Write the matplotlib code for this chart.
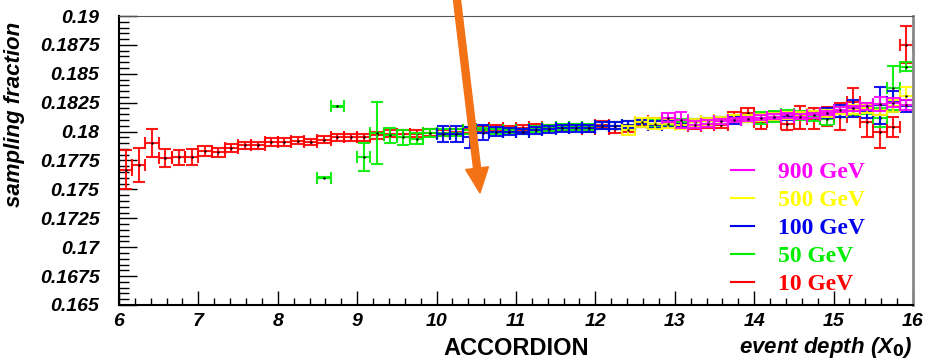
import numpy as np
import matplotlib
matplotlib.use("Agg")
import matplotlib.pyplot as plt
from matplotlib.lines import Line2D
from matplotlib.patches import FancyArrow
from matplotlib.transforms import IdentityTransform

# histogram binning: 60 bins of 1/6 X0 between 6 and 16
bin_edges = np.linspace(6, 16, 61)

# 10 GeV (all bins)
red_first = 0
red_y = [0.1767, 0.1771, 0.1790, 0.1777, 0.1778, 0.1778, 0.1783, 0.1782, 0.1786, 0.1788,
         0.1788, 0.1791, 0.1791, 0.1792, 0.1791, 0.1793, 0.1795, 0.1795, 0.1795, 0.1797,
         0.1798, 0.1798, 0.1798, 0.1799, 0.1799, 0.1800, 0.1801, 0.1802, 0.1803, 0.1802,
         0.1803, 0.1804, 0.1803, 0.1803, 0.1804, 0.1802, 0.1806, 0.1802, 0.1803, 0.1808,
         0.1809, 0.1809, 0.1807, 0.1805, 0.1806, 0.1806, 0.1813, 0.1816, 0.1808, 0.1813,
         0.1807, 0.1812, 0.1811, 0.1813, 0.1813, 0.1826, 0.1808, 0.1800, 0.1804, 0.1875]
red_e = [0.0017, 0.0015, 0.0012, 0.0008, 0.00065, 0.0007, 0.00045, 0.00036, 0.00035, 0.0003,
         0.0003, 0.00035, 0.00035, 0.0003, 0.0003, 0.0003, 0.0003, 0.0003, 0.0003, 0.0003,
         0.0003, 0.0003, 0.0003, 0.0003, 0.00025, 0.00025, 0.00025, 0.00025, 0.00025, 0.00025,
         0.00025, 0.00025, 0.00025, 0.00025, 0.00025, 0.00025, 0.0003, 0.0003, 0.0003, 0.0003,
         0.0003, 0.0003, 0.0003, 0.0003, 0.0003, 0.0003, 0.0004, 0.0004, 0.0006, 0.0004,
         0.0006, 0.0010, 0.0009, 0.0008, 0.0012, 0.0012, 0.0013, 0.0014, 0.0009, 0.0016]

# 50 GeV
green_first = 15
green_y = [0.1760, 0.1822, np.nan, 0.1778, 0.1799, 0.1797, 0.1795, 0.1794, 0.1799, 0.1799,
           0.1799, 0.1801, 0.1801, 0.1800, 0.1801, 0.1800, 0.1802, 0.1803, 0.1804, 0.1804,
           0.1804, 0.1805, 0.1805, 0.1806, 0.1807, 0.1807, 0.1808, 0.1808, 0.1808, 0.1809,
           0.1810, 0.1811, 0.1811, 0.1812, 0.1813, 0.1815, 0.1814, 0.1813, 0.1811, 0.1817,
           0.1818, 0.1820, 0.1812, 0.1838, 0.1856]
green_e = [0.00005, 0.00005, np.nan, 0.0012, 0.0027, 0.00065, 0.00065, 0.0005, 0.00036, 0.0003,
           0.0003, 0.0003, 0.00025, 0.00025, 0.00025, 0.00025, 0.00025, 0.00025, 0.00025, 0.00025,
           0.00025, 0.0003, 0.0003, 0.0003, 0.0003, 0.0003, 0.0003, 0.0003, 0.0003, 0.0003,
           0.0003, 0.0003, 0.0003, 0.0005, 0.0005, 0.0004, 0.0004, 0.0004, 0.0005, 0.0004,
           0.0004, 0.0005, 0.0008, 0.0019, 0.0004]

# 100 GeV
blue_first = 24
blue_y = [0.1798, 0.1798, 0.1795, 0.1799, 0.1800, 0.1800, 0.1800, 0.1801, 0.1802, 0.1803,
          0.1803, 0.1803, 0.1805, 0.1805, 0.1806, 0.1807, 0.1806, 0.1807, 0.1807, 0.1808,
          0.1809, 0.1810, 0.1810, 0.1811, 0.1812, 0.1813, 0.1813, 0.1814, 0.1815, 0.1816,
          0.1818, 0.1820, 0.1818, 0.1823, 0.1826, 0.1822]
blue_e = [0.0007, 0.0007, 0.0009, 0.00065, 0.0004, 0.0003, 0.00025, 0.0003, 0.0003, 0.0003,
          0.0003, 0.0003, 0.0003, 0.0003, 0.0003, 0.0003, 0.0003, 0.0003, 0.0003, 0.0003,
          0.0003, 0.0003, 0.0003, 0.0003, 0.0003, 0.0003, 0.0003, 0.0003, 0.0003, 0.0004,
          0.0005, 0.0007, 0.0006, 0.0016, 0.0009, 0.0005]

# 500 GeV
yellow_first = 38
yellow_y = [0.1801, 0.1808, 0.1807, 0.1807, 0.1806, 0.1808, 0.1809, 0.1810, 0.1811, 0.1811,
            0.1812, 0.1813, 0.1814, 0.1814, 0.1815, 0.1816, 0.1818, 0.1819, 0.1820, 0.1819,
            0.1822, 0.1831]
yellow_e = [0.0004, 0.0004, 0.0005, 0.0004, 0.0004, 0.0003, 0.0003, 0.0003, 0.0003, 0.0003,
            0.0003, 0.0003, 0.0003, 0.0003, 0.0003, 0.0003, 0.0003, 0.0004, 0.0004, 0.0005,
            0.0005, 0.0008]

# 900 GeV
magenta_first = 41
magenta_y = [0.1812, 0.1810, 0.1806, 0.1807, 0.1809, 0.1810, 0.1811, 0.1812, 0.1813, 0.1814,
             0.1813, 0.1814, 0.1816, 0.1819, 0.1820, 0.1822, 0.1824, 0.1825, 0.1823]
magenta_e = [0.0004, 0.0007, 0.0003, 0.0003, 0.0002, 0.0002, 0.0002, 0.0002, 0.0002, 0.0002,
             0.0002, 0.0002, 0.0002, 0.0002, 0.0002, 0.0003, 0.0006, 0.0004, 0.0004]

labels = ["10 GeV", "50 GeV", "100 GeV", "500 GeV", "900 GeV"]
colors = ["#ff0000", "#00ee00", "#0000ee", "#ffff00", "#ff00ff"]
series = [(red_first, red_y, red_e), (green_first, green_y, green_e),
          (blue_first, blue_y, blue_e), (yellow_first, yellow_y, yellow_e),
          (magenta_first, magenta_y, magenta_e)]

tick_font = dict(family="Liberation Sans", weight="bold", style="italic")

fig = plt.figure(figsize=(9.25, 3.62), dpi=100)
ax = fig.add_axes([0.1286, 0.1575, 0.8584, 0.7983])

centers = 0.5 * (bin_edges[:-1] + bin_edges[1:])
half_w = 0.5 * (bin_edges[1] - bin_edges[0])

for (first, y, e), c in zip(series, colors):
    x = centers[first:first + len(y)]
    ax.errorbar(x, y, yerr=e, xerr=half_w, fmt="none", ecolor=c, elinewidth=1.5,
                capsize=4.3, capthick=1.5, alpha=0.9)
    ax.plot(x, y, ls="none", marker=".", ms=1.5, color="black")

ax.set_xlim(6, 16)
ax.set_ylim(0.165, 0.19)
ax.set_xticks(np.arange(6, 17, 1))
ax.set_xticks(np.arange(6, 16.01, 0.2), minor=True)
ax.set_yticks(np.arange(0.165, 0.19001, 0.0025))
ax.set_yticks(np.arange(0.165, 0.19001, 0.0005), minor=True)
ax.set_xticklabels(["%g" % v for v in np.arange(6, 17, 1)], fontdict=tick_font, fontsize=14)
ax.set_yticklabels(["%g" % round(v, 4) for v in np.arange(0.165, 0.19001, 0.0025)],
                   fontdict=tick_font, fontsize=14)
ax.tick_params(axis="both", which="both", direction="in", top=False, right=False, width=1)
ax.tick_params(axis="x", which="major", length=10, pad=6)
ax.tick_params(axis="x", which="minor", length=5)
ax.tick_params(axis="y", which="major", length=13, pad=14)
ax.tick_params(axis="y", which="minor", length=7)

ax.spines["left"].set_linewidth(1.5)
ax.spines["bottom"].set_linewidth(1.5)
ax.spines["top"].set_color("#555555")
ax.spines["top"].set_linewidth(0.8)
ax.spines["right"].set_color("#888888")
ax.spines["right"].set_linewidth(2)

ax.set_ylabel("sampling fraction", fontsize=16, fontweight="bold", fontstyle="italic",
              family="Liberation Sans", labelpad=4)
ax.yaxis.set_label_coords(-0.118, 0.66)

fig.text(0.558, 0.038, "ACCORDION", fontsize=17, fontweight="bold", family="Liberation Sans",
         ha="center", va="center")
fig.text(0.987, 0.04, r"event depth (X$_{\mathbf{0}}$)", fontsize=16, fontweight="bold",
         fontstyle="italic", family="Liberation Sans", ha="right", va="center")

handles = [Line2D([], [], color=c, lw=1.5) for c in colors][::-1]
leg = ax.legend(handles, labels[::-1], loc="upper left", bbox_to_anchor=(0.771, 0.497),
                frameon=False, borderpad=0, borderaxespad=0, handlelength=0.95,
                handletextpad=1.05, labelspacing=0.28,
                prop=dict(family="Liberation Serif", weight="bold", size=17))
for t, c in zip(leg.get_texts(), colors[::-1]):
    t.set_color(c)

# orange arrow overlay (figure pixels)
arrow = FancyArrow(457, 362, 23, -193, width=7, head_width=23, head_length=25,
                   length_includes_head=True, color="#f47216", transform=IdentityTransform())
fig.add_artist(arrow)

fig.savefig("out.png", dpi=100)
